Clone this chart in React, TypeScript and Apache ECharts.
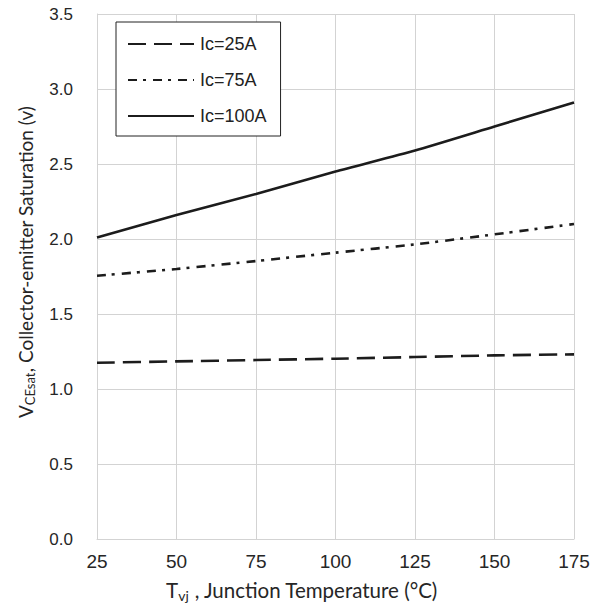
import React, { useEffect, useRef } from "react";
import * as echarts from "echarts";

const temps = [25, 50, 75, 100, 125, 150, 175];
const ic25 = [1.175, 1.184, 1.193, 1.202, 1.213, 1.224, 1.231];
const ic75 = [1.755, 1.8, 1.853, 1.909, 1.964, 2.031, 2.1];
const ic100 = [2.01, 2.16, 2.3, 2.45, 2.59, 2.75, 2.91];
const seriesNames = ["Ic=25A", "Ic=75A", "Ic=100A"];

const LINE = "#1c1c1c";
const GRID = "#d3d3d3";

export default function App() {
  const ref = useRef<HTMLDivElement>(null);
  useEffect(() => {
    if (!ref.current) return;
    const chart = echarts.init(ref.current, null, { renderer: "svg" });
    const pair = (ys: number[]) => temps.map((t, i) => [t, ys[i]]);
    const mk = (name: string, ys: number[], type: any) => ({
      name,
      type: "line",
      data: pair(ys),
      symbol: "none",
      smooth: 0.2,
      lineStyle: { color: LINE, width: 2.6, type },
      itemStyle: { color: LINE },
    });
    chart.setOption({
      animation: false,
      backgroundColor: "#ffffff",
      grid: { left: 97, right: 30, top: 14, bottom: 71, containLabel: false },
      xAxis: {
        type: "value",
        min: 25,
        max: 175,
        interval: 25,
        axisLine: { show: true, lineStyle: { color: GRID, width: 1 } },
        axisTick: { show: false },
        splitLine: { show: true, lineStyle: { color: GRID, width: 1 } },
        axisLabel: {
          margin: 13,
          fontSize: 19,
          color: "#262626",
          fontFamily: "Liberation Sans, Arial, sans-serif",
        },
      },
      yAxis: {
        type: "value",
        min: 0,
        max: 3.5,
        interval: 0.5,
        axisLine: { show: true, lineStyle: { color: GRID, width: 1 } },
        axisTick: { show: false },
        splitLine: { show: true, lineStyle: { color: GRID, width: 1 } },
        axisLabel: {
          margin: 24,
          fontSize: 17,
          color: "#262626",
          fontFamily: "Liberation Sans, Arial, sans-serif",
          formatter: (v: number) => v.toFixed(1),
        },
      },
      legend: {
        show: true,
        orient: "vertical",
        left: 116,
        top: 22,
        padding: [13, 14, 11, 11],
        itemWidth: 66,
        itemHeight: 14,
        itemGap: 18,
        backgroundColor: "#ffffff",
        borderColor: "#222222",
        borderWidth: 1,
        borderRadius: 0,
        data: seriesNames,
        itemStyle: { opacity: 0 },
        textStyle: {
          fontSize: 18,
          lineHeight: 14,
          color: "#222222",
          fontFamily: "Liberation Sans, Arial, sans-serif",
          padding: [0, 0, 0, 1],
        },
      },
      series: [
        mk(seriesNames[0], ic25, [18, 8]),
        mk(seriesNames[1], ic75, [9, 6, 3, 7]),
        mk(seriesNames[2], ic100, "solid"),
      ],
      graphic: [
        {
          type: "text",
          x: 25,
          y: 262,
          rotation: Math.PI / 2,
          style: {
            text: "{v|V}{s|CEsat}{v|, Collector-emitter Saturation (v)}",
            align: "center",
            verticalAlign: "middle",
            fill: "#262626",
            rich: {
              v: { fontSize: 19, fontFamily: "Lato, sans-serif", fill: "#262626" },
              s: { fontSize: 13, fontFamily: "Lato, sans-serif", fill: "#262626", padding: [10, 0, 0, 0] },
            },
          },
        },
        {
          type: "text",
          x: 302,
          y: 590,
          style: {
            text: "{n|T}{s|vj}{n| , Junction Temperature (°C)}",
            align: "center",
            verticalAlign: "middle",
            fill: "#262626",
            rich: {
              n: { fontSize: 20.5, fontFamily: "Lato, sans-serif", fill: "#262626" },
              s: { fontSize: 14, fontFamily: "Lato, sans-serif", fill: "#262626", padding: [10, 0, 0, 0] },
            },
          },
        },
      ],
    });
    return () => chart.dispose();
  }, []);
  return (
    <div
      ref={ref}
      style={{ position: "fixed", left: 0, top: 0, width: 604, height: 610, background: "#fff" }}
    />
  );
}
